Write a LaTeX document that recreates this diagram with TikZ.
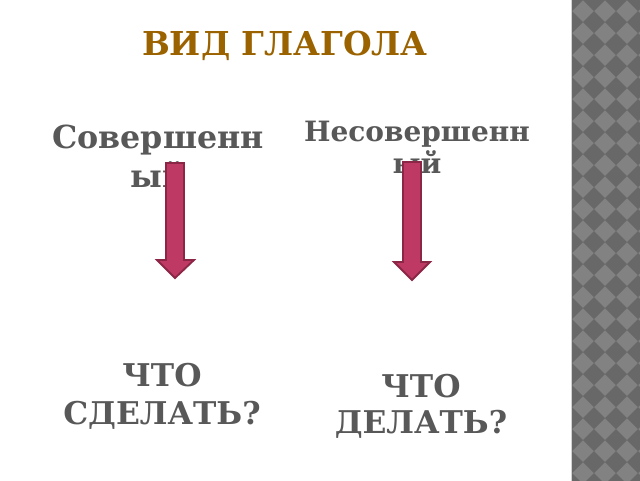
\documentclass[tikz,border=0pt]{standalone}
\usepackage{fontspec}
\setmainfont{DejaVu Serif}
\definecolor{titlebrown}{RGB}{155,98,0}
\definecolor{labelgray}{RGB}{88,88,88}
\definecolor{arrowfill}{RGB}{190,58,100}
\definecolor{arrowline}{RGB}{140,38,70}
\definecolor{tilelight}{RGB}{130,130,130}
\definecolor{tiledark}{RGB}{104,104,104}
\tikzset{every picture/.style={line width=0.75pt}}

\begin{document}
\begin{tikzpicture}[x=0.75pt,y=0.75pt,yscale=-1,xscale=1]
			\useasboundingbox (0,0) rectangle (640,480); %set diagram 640 by 480

			%Shape: Rectangle [id:strip]
			\fill [tilelight] (572,-4) rectangle (644,484);
			\begin{scope}
			\clip (572,-4) rectangle (644,484);
			\foreach \i in {0,...,4} \foreach \j in {0,...,23} {
				%Shape: Diamond
				\fill [tiledark] (572+\i*22,\j*22-11) -- ++(11,11) -- ++(-11,11) -- ++(-11,-11) -- cycle;
			}
			\end{scope}
			\draw [gray!35, line width=1pt] (571.5,-4) -- (571.5,484);

			% Text Node
			\node (title) [anchor=base, inner sep=0.75pt, text=titlebrown, font=\fontsize{24.7}{30}\selectfont\bfseries] at (285,55) {ВИД ГЛАГОЛА};
			% Text Node
			\node (perf) [anchor=base, inner sep=0.75pt, text=labelgray, align=center, font=\fontsize{23.8}{29}\selectfont\bfseries] at (158,187) {Совершенн\\ый};
			% Text Node
			\node (imperf) [anchor=base, inner sep=0.75pt, text=labelgray, align=center, font=\fontsize{21}{24}\selectfont\bfseries] at (417,173) {Несовершенн\\ый};
			% Text Node
			\node (qperf) [anchor=base, inner sep=0.75pt, text=labelgray, align=center, font=\fontsize{23.5}{28}\selectfont\bfseries] at (162,424) {ЧТО\\СДЕЛАТЬ?};
			% Text Node
			\node (qimperf) [anchor=base, inner sep=0.75pt, text=labelgray, align=center, font=\fontsize{23.5}{27}\selectfont\bfseries] at (421,433) {ЧТО\\ДЕЛАТЬ?};

			%Shape: Down Arrow [id:arrowperf]
			\draw [arrowline, fill=arrowfill, line width=1.4pt] (166,163) -- (184,163) -- (184,260) -- (194,260) -- (175,278) -- (157,260) -- (166,260) -- cycle ;
			%Shape: Down Arrow [id:arrowimperf]
			\draw [arrowline, fill=arrowfill, line width=1.4pt] (403,162) -- (421,162) -- (421,262) -- (430,262) -- (412,280) -- (394,262) -- (403,262) -- cycle ;

\end{tikzpicture}
\end{document}
